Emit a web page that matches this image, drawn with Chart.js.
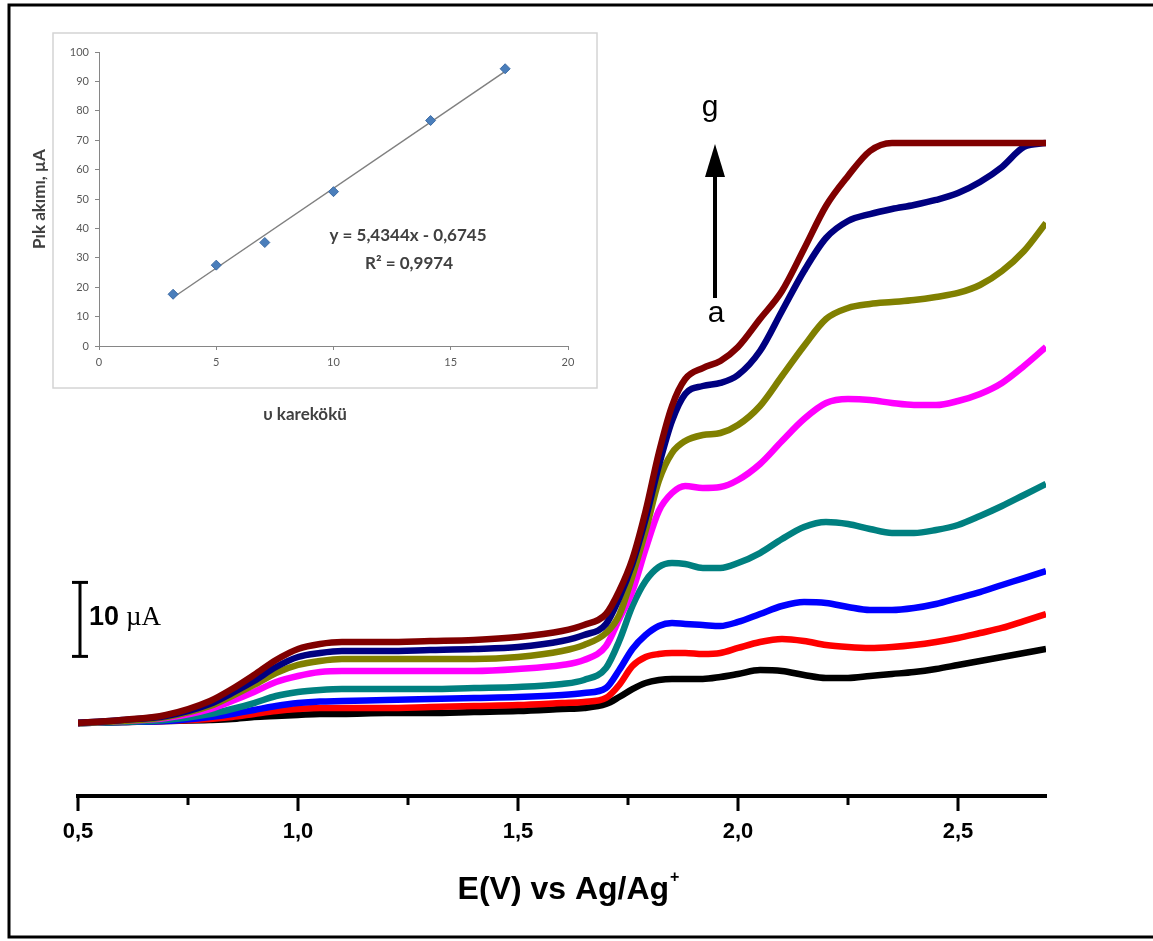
<!DOCTYPE html>
<html>
<head>
<meta charset="utf-8">
<script src="https://cdn.jsdelivr.net/npm/chart.js@4.4.1/dist/chart.umd.min.js"></script>
<style>
  html, body { margin: 0; padding: 0; background: #fff; }
  #wrap { position: relative; width: 1153px; height: 941px; overflow: hidden; }
  #main { position: absolute; left: 0; top: 0; width: 1153px; height: 941px; }
  #inset { position: absolute; left: 0; top: 0; width: 620px; height: 440px; }
</style>
</head>
<body>
<div id="wrap">
  <canvas id="main" width="1153" height="941"></canvas>
  <canvas id="inset" width="620" height="440"></canvas>
</div>
<script>
// Linear sweep voltammograms: potential (V vs Ag/Ag+) and current (µA, relative to start)
const potentials = [0.5, 0.6, 0.7, 0.8, 0.85, 0.9, 0.95, 1.0, 1.05, 1.1,
                    1.2, 1.3, 1.4, 1.5, 1.6, 1.65, 1.7, 1.73, 1.76, 1.79,
                    1.82, 1.85, 1.88, 1.92, 1.96, 2.0, 2.05, 2.1, 2.15, 2.2,
                    2.25, 2.3, 2.35, 2.4, 2.45, 2.5, 2.55, 2.6, 2.65, 2.7];

const currentBlank = [0, 0.14, 0.27, 0.41, 0.54, 0.81, 0.95, 1.08, 1.22, 1.22,
                      1.35, 1.35, 1.49, 1.62, 1.89, 2.03, 2.57, 3.51, 4.59, 5.41,
                      5.81, 5.95, 5.95, 5.95, 6.22, 6.62, 7.16, 7.03, 6.49, 6.08,
                      6.08, 6.35, 6.62, 6.89, 7.30, 7.84, 8.38, 8.92, 9.46, 10.0];
const currentA = [0, 0.14, 0.27, 0.54, 0.81, 1.22, 1.62, 1.89, 2.03, 2.03,
                  2.03, 2.16, 2.30, 2.43, 2.70, 2.84, 3.38, 5.14, 7.70, 8.92,
                  9.32, 9.46, 9.46, 9.32, 9.46, 10.14, 10.95, 11.35, 11.08, 10.54,
                  10.27, 10.14, 10.27, 10.54, 10.95, 11.49, 12.16, 12.84, 13.78, 14.73];
const currentB = [0, 0.14, 0.27, 0.81, 1.22, 1.76, 2.30, 2.70, 2.91, 2.97,
                  3.11, 3.24, 3.38, 3.51, 3.78, 4.05, 4.73, 7.16, 10.0, 11.89,
                  13.11, 13.51, 13.38, 13.24, 13.11, 13.65, 14.73, 15.81, 16.35, 16.22,
                  15.68, 15.27, 15.27, 15.54, 16.08, 16.89, 17.70, 18.65, 19.59, 20.54];
const currentC = [0, 0.14, 0.41, 1.22, 1.89, 2.70, 3.65, 4.19, 4.46, 4.59,
                  4.59, 4.59, 4.73, 4.86, 5.27, 5.81, 7.43, 11.08, 15.81, 19.19,
                  21.08, 21.62, 21.49, 20.95, 20.95, 21.62, 22.97, 24.86, 26.49, 27.16,
                  26.89, 26.22, 25.68, 25.68, 26.08, 26.76, 27.97, 29.32, 30.81, 32.30];
const currentD = [0, 0.27, 0.68, 1.89, 2.97, 4.19, 5.54, 6.35, 6.89, 7.03,
                  7.03, 7.03, 7.03, 7.30, 7.84, 8.51, 10.41, 14.05, 17.84, 23.51,
                  28.65, 31.08, 32.03, 31.76, 31.89, 32.84, 35.0, 38.11, 41.08, 43.24,
                  43.78, 43.65, 43.24, 42.97, 42.97, 43.51, 44.46, 45.95, 48.24, 50.81];
const currentE = [0, 0.27, 0.81, 2.30, 3.65, 5.14, 6.76, 7.84, 8.38, 8.65,
                  8.65, 8.65, 8.65, 8.92, 9.73, 10.54, 12.16, 14.59, 19.86, 25.95,
                  32.70, 36.49, 38.11, 38.92, 39.19, 40.27, 42.84, 46.89, 50.95, 54.59,
                  56.08, 56.62, 56.89, 57.16, 57.57, 58.11, 59.19, 61.08, 63.78, 67.57];
const currentF = [0, 0.41, 0.95, 2.57, 4.05, 5.68, 7.57, 8.92, 9.46, 9.73,
                  9.73, 9.86, 10.0, 10.27, 11.08, 11.89, 13.38, 16.89, 21.49, 27.57,
                  34.73, 40.81, 44.46, 45.54, 45.95, 47.03, 50.27, 55.68, 61.08, 65.54,
                  67.84, 68.78, 69.46, 70.0, 70.68, 71.62, 73.11, 75.14, 77.84, 78.38];
const currentG = [0, 0.41, 1.08, 2.97, 4.59, 6.49, 8.51, 10.0, 10.68, 10.95,
                  10.95, 11.08, 11.22, 11.62, 12.43, 13.24, 14.73, 17.84, 22.16, 28.65,
                  36.49, 42.84, 46.49, 47.97, 48.92, 50.81, 54.59, 58.38, 64.05, 69.86,
                  73.92, 77.30, 78.38, 78.38, 78.38, 78.38, 78.38, 78.38, 78.38, 78.38];

const majorTicks = [0.5, 1.0, 1.5, 2.0, 2.5];
const minorTicks = [0.75, 1.25, 1.75, 2.25];

// Inset: peak current vs square root of scan rate
const scanRoots = [3.16, 5.00, 7.07, 10.00, 14.14, 17.32];
const peakCurrents = [17.6, 27.5, 35.2, 52.5, 76.7, 94.3];
const fitSlope = 5.4344;
const fitIntercept = -0.6745;
const insetXTicks = [0, 5, 10, 15, 20];

const SANS = "'Liberation Sans', Arial, sans-serif";
const SERIF = "'Liberation Serif', 'Times New Roman', serif";
const CAL = "Lato, 'Open Sans', sans-serif";

const series = [
  { name: 'blank', values: currentBlank, color: '#000000' },
  { name: 'a', values: currentA, color: '#ff0000' },
  { name: 'b', values: currentB, color: '#0000ff' },
  { name: 'c', values: currentC, color: '#008080' },
  { name: 'd', values: currentD, color: '#ff00ff' },
  { name: 'e', values: currentE, color: '#808000' },
  { name: 'f', values: currentF, color: '#000080' },
  { name: 'g', values: currentG, color: '#800000' }
];

function seg(ctx, x1, y1, x2, y2) {
  ctx.beginPath(); ctx.moveTo(x1, y1); ctx.lineTo(x2, y2); ctx.stroke();
}

const mainDecor = {
  id: 'mainDecor',
  afterDraw(chart) {
    const { ctx, chartArea, scales: { x, y } } = chart;
    const base = chartArea.bottom - 1;
    ctx.save();
    ctx.strokeStyle = '#000';
    ctx.fillStyle = '#000';
    ctx.lineCap = 'butt';

    // potential axis with major and minor tick marks
    ctx.lineWidth = 4;
    seg(ctx, x.getPixelForValue(0.5) - 2, base, chartArea.right + 1, base);
    ctx.lineWidth = 3;
    majorTicks.forEach(v => { const p = x.getPixelForValue(v); seg(ctx, p, base, p, base + 15); });
    minorTicks.forEach(v => { const p = x.getPixelForValue(v); seg(ctx, p, base, p, base + 9); });

    // axis title with superscript
    const t1 = 'E(V) vs Ag/Ag';
    ctx.font = 'bold 32px ' + SANS;
    const w1 = ctx.measureText(t1).width;
    ctx.font = 'bold 16px ' + SANS;
    const w2 = ctx.measureText('+').width;
    const cx = 568, by = 899;
    const sx = cx - (w1 + w2) / 2;
    ctx.textAlign = 'left';
    ctx.textBaseline = 'alphabetic';
    ctx.font = 'bold 32px ' + SANS;
    ctx.fillText(t1, sx, by);
    ctx.font = 'bold 16px ' + SANS;
    ctx.fillText('+', sx + w1 + 1, by - 17);

    // 10 µA scale bar
    const sbx = 80;
    const sTop = y.getPixelForValue(19), sBot = y.getPixelForValue(9);
    ctx.lineWidth = 3;
    seg(ctx, sbx, sTop, sbx, sBot);
    seg(ctx, sbx - 8, sTop, sbx + 8, sTop);
    seg(ctx, sbx - 8, sBot, sbx + 8, sBot);
    ctx.font = 'bold 27px ' + SANS;
    ctx.fillText('10', 89, 625);
    const w10 = ctx.measureText('10').width;
    ctx.font = '27px ' + SERIF;
    ctx.fillText('\u00b5A', 89 + w10 + 7, 625);

    // a → g arrow
    ctx.lineWidth = 4;
    seg(ctx, 715, 298, 715, 170);
    ctx.beginPath();
    ctx.moveTo(715, 144); ctx.lineTo(705, 177); ctx.lineTo(725, 177); ctx.closePath();
    ctx.fill();
    ctx.font = '30px ' + SANS;
    ctx.textAlign = 'center';
    ctx.fillText('g', 710, 116);
    ctx.fillText('a', 716, 322);

    // outer frame
    ctx.lineWidth = 3;
    ctx.strokeRect(9, 5, 1160, 932);
    ctx.restore();
  }
};

new Chart(document.getElementById('main'), {
  type: 'line',
  data: {
    datasets: series.slice().reverse().map(s => ({
      label: s.name,
      data: potentials.map((v, i) => ({ x: v, y: s.values[i] })),
      borderColor: s.color,
      backgroundColor: s.color,
      borderWidth: 6.5,
      pointRadius: 0,
      cubicInterpolationMode: 'monotone',
      fill: false
    }))
  },
  options: {
    responsive: false,
    animation: false,
    devicePixelRatio: 1,
    layout: { padding: { left: 78, right: 107, top: 57, bottom: 0 } },
    plugins: { legend: { display: false }, tooltip: { enabled: false } },
    scales: {
      x: {
        type: 'linear', min: 0.5, max: 2.7,
        grid: { display: false, drawTicks: false },
        border: { display: false },
        afterBuildTicks: s => { s.ticks = majorTicks.map(v => ({ value: v })); },
        afterFit: s => { s.height = 941 - 797; },
        ticks: {
          padding: 22, color: '#000',
          font: { family: SANS, size: 22, weight: 'bold' },
          callback: v => v.toFixed(1).replace('.', ',')
        }
      },
      y: { display: false, min: -10, max: 90 }
    }
  },
  plugins: [mainDecor]
});

const insetDecor = {
  id: 'insetDecor',
  beforeDraw(chart) {
    const ctx = chart.ctx;
    ctx.save();
    ctx.fillStyle = '#fff';
    ctx.fillRect(53, 33, 544, 355);
    ctx.strokeStyle = '#d4d4d4';
    ctx.lineWidth = 1.5;
    ctx.strokeRect(53, 33, 544, 355);
    ctx.restore();
  },
  afterDraw(chart) {
    const ctx = chart.ctx;
    ctx.save();
    ctx.fillStyle = '#404040';
    ctx.textAlign = 'center';
    ctx.textBaseline = 'middle';
    ctx.font = 'bold 17px ' + CAL;
    ctx.fillText('y = 5,4344x - 0,6745', 408, 236);
    ctx.fillText('R\u00b2 = 0,9974', 409, 264);
    ctx.font = 'bold 17px ' + CAL;
    ctx.fillText('\u03c5 karek\u00f6k\u00fc', 305, 415);
    ctx.restore();
  }
};

new Chart(document.getElementById('inset'), {
  type: 'scatter',
  data: {
    datasets: [
      {
        label: 'Pik akımı',
        data: scanRoots.map((v, i) => ({ x: v, y: peakCurrents[i] })),
        pointStyle: 'rectRot',
        pointRadius: 5,
        backgroundColor: '#4a7ebb',
        borderColor: '#3d6ca6',
        borderWidth: 1
      },
      {
        label: 'fit',
        type: 'line',
        data: [scanRoots[0], scanRoots[scanRoots.length - 1]].map(v => ({ x: v, y: fitSlope * v + fitIntercept })),
        borderColor: '#808080',
        borderWidth: 1.5,
        pointRadius: 0,
        fill: false
      }
    ]
  },
  options: {
    responsive: false,
    animation: false,
    devicePixelRatio: 1,
    layout: { padding: { left: 25, right: 52, top: 52, bottom: 13 } },
    plugins: { legend: { display: false }, tooltip: { enabled: false } },
    scales: {
      x: {
        type: 'linear', min: 0, max: 20,
        afterBuildTicks: s => { s.ticks = insetXTicks.map(v => ({ value: v })); },
        afterFit: s => { s.height = 440 - 13 - 346; },
        grid: { drawOnChartArea: false, tickLength: 4, color: '#868686' },
        border: { color: '#868686', width: 1 },
        ticks: { padding: 6, color: '#595959', font: { family: CAL, size: 11 } }
      },
      y: {
        type: 'linear', min: 0, max: 100,
        afterFit: s => { s.width = 99 - 25; },
        grid: { drawOnChartArea: false, tickLength: 4, color: '#868686' },
        border: { color: '#868686', width: 1 },
        ticks: { stepSize: 10, padding: 6, color: '#595959', font: { family: CAL, size: 11 } },
        title: {
          display: true, text: 'Pık akımı, µA', color: '#404040',
          font: { family: CAL, size: 17, weight: 'bold' }, padding: { top: 4, bottom: 4 }
        }
      }
    }
  },
  plugins: [insetDecor]
});
</script>
</body>
</html>
